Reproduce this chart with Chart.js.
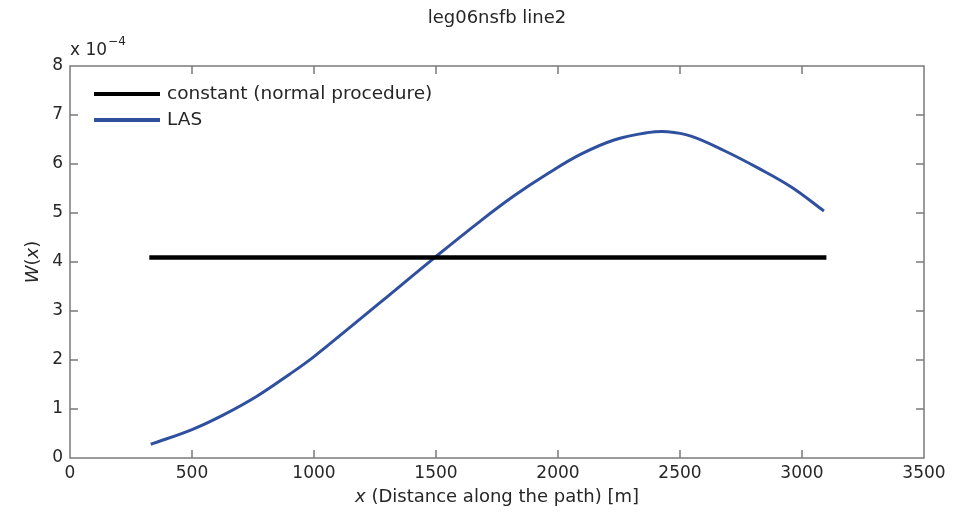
<!DOCTYPE html>
<html>
<head>
<meta charset="utf-8">
<script src="https://cdn.jsdelivr.net/npm/chart.js@4"></script>
<style>
  body { margin: 0; background: #fff; }
</style>
</head>
<body>
<canvas id="chart" width="965" height="516"></canvas>
<script>
// values, y in units of 1e-4
const lasX = [331, 500, 629, 766, 903, 1000, 1136, 1273, 1492, 1683, 1820, 1957, 2094, 2230, 2367, 2449, 2545, 2682, 2819, 2956, 3090];
const lasY = [0.28, 0.58, 0.88, 1.26, 1.72, 2.07, 2.62, 3.18, 4.08, 4.84, 5.35, 5.80, 6.20, 6.49, 6.64, 6.66, 6.57, 6.27, 5.92, 5.53, 5.04];
const constX = [325, 3100];
const constY = [4.09, 4.09];

const seriesNames = ['constant (normal procedure)', 'LAS'];
const seriesColors = ['#000000', '#2f4f9f'];

const titleText = 'leg06nsfb line2';
const xLabel = '(Distance along the path) [m]';

const FONT = '"DejaVu Sans", sans-serif';
const TEXT = '#262626';
const AXIS = '#7a7a7a';

function toPoints(xs, ys) {
    return xs.map((x, i) => ({ x: x, y: ys[i] }));
}

// box, inward ticks, labels and legend in matlab style
const matlabFrame = {
    id: 'matlabFrame',
    afterDraw(chart) {
        const ctx = chart.ctx;
        const a = chart.chartArea;
        const xs = chart.scales.x;
        const ys = chart.scales.y;
        const tl = 8;

        ctx.save();
        ctx.strokeStyle = AXIS;
        ctx.lineWidth = 1.5;
        ctx.strokeRect(a.left, a.top, a.right - a.left, a.bottom - a.top);

        ctx.beginPath();
        xs.ticks.forEach(t => {
            const px = xs.getPixelForValue(t.value);
            if (px <= a.left + 1 || px >= a.right - 1) return;
            ctx.moveTo(px, a.bottom); ctx.lineTo(px, a.bottom - tl);
            ctx.moveTo(px, a.top); ctx.lineTo(px, a.top + tl);
        });
        ys.ticks.forEach(t => {
            const py = ys.getPixelForValue(t.value);
            if (py <= a.top + 1 || py >= a.bottom - 1) return;
            ctx.moveTo(a.left, py); ctx.lineTo(a.left + tl, py);
            ctx.moveTo(a.right, py); ctx.lineTo(a.right - tl, py);
        });
        ctx.stroke();

        const cx = (a.left + a.right) / 2;
        ctx.fillStyle = TEXT;
        ctx.textBaseline = 'middle';

        // title
        ctx.textAlign = 'center';
        ctx.font = '18px ' + FONT;
        ctx.fillText(titleText, cx, 18);

        // exponent
        ctx.textAlign = 'left';
        ctx.font = '17px ' + FONT;
        ctx.fillText('x 10', a.left, 51);
        const w10 = ctx.measureText('x 10').width;
        ctx.font = '12px ' + FONT;
        ctx.fillText('\u22124', a.left + w10 + 1, 42);

        // x label with italic x
        ctx.font = 'italic 18px ' + FONT;
        const wx = ctx.measureText('x ').width;
        ctx.font = '18px ' + FONT;
        const wr = ctx.measureText(xLabel).width;
        const sx = cx - (wx + wr) / 2;
        ctx.font = 'italic 18px ' + FONT;
        ctx.fillText('x ', sx, 497);
        ctx.font = '18px ' + FONT;
        ctx.fillText(xLabel, sx + wx, 497);

        // y label W(x)
        ctx.translate(33, (a.top + a.bottom) / 2);
        ctx.rotate(-Math.PI / 2);
        const parts = [['W', true], ['(', false], ['x', true], [')', false]];
        let total = 0;
        parts.forEach(p => {
            ctx.font = (p[1] ? 'italic ' : '') + '18px ' + FONT;
            total += ctx.measureText(p[0]).width;
        });
        let px = -total / 2;
        parts.forEach(p => {
            ctx.font = (p[1] ? 'italic ' : '') + '18px ' + FONT;
            ctx.fillText(p[0], px, 0);
            px += ctx.measureText(p[0]).width;
        });
        ctx.setTransform(1, 0, 0, 1, 0, 0);

        // legend
        ctx.font = '18.5px ' + FONT;
        seriesNames.forEach((name, i) => {
            const y = 94 + i * 26;
            ctx.strokeStyle = seriesColors[i];
            ctx.lineWidth = 4;
            ctx.beginPath();
            ctx.moveTo(94, y); ctx.lineTo(160, y);
            ctx.stroke();
            ctx.fillStyle = TEXT;
            ctx.fillText(name, 167, y);
        });
        ctx.restore();
    }
};

new Chart(document.getElementById('chart'), {
    type: 'scatter',
    data: {
        datasets: [
            {
                label: seriesNames[0],
                data: toPoints(constX, constY),
                showLine: true,
                borderColor: seriesColors[0],
                borderWidth: 4.5,
                pointRadius: 0
            },
            {
                label: seriesNames[1],
                data: toPoints(lasX, lasY),
                showLine: true,
                borderColor: seriesColors[1],
                borderWidth: 3,
                pointRadius: 0,
                tension: 0.4
            }
        ]
    },
    options: {
        responsive: false,
        animation: false,
        layout: { padding: { top: 66, right: 41, left: 0, bottom: 0 } },
        plugins: {
            legend: { display: false },
            title: { display: false },
            tooltip: { enabled: false }
        },
        scales: {
            x: {
                type: 'linear',
                min: 0,
                max: 3500,
                ticks: {
                    stepSize: 500, padding: 5, color: TEXT,
                    font: { family: FONT, size: 17 },
                    callback: v => String(v)
                },
                grid: { display: false, drawTicks: false },
                border: { display: false },
                afterFit: s => { s.height = 58; }
            },
            y: {
                min: 0,
                max: 8,
                ticks: {
                    stepSize: 1, padding: 7, color: TEXT,
                    font: { family: FONT, size: 17 },
                    callback: v => String(v)
                },
                grid: { display: false, drawTicks: false },
                border: { display: false },
                afterFit: s => { s.width = 70; }
            }
        }
    },
    plugins: [matlabFrame]
});
</script>
</body>
</html>
